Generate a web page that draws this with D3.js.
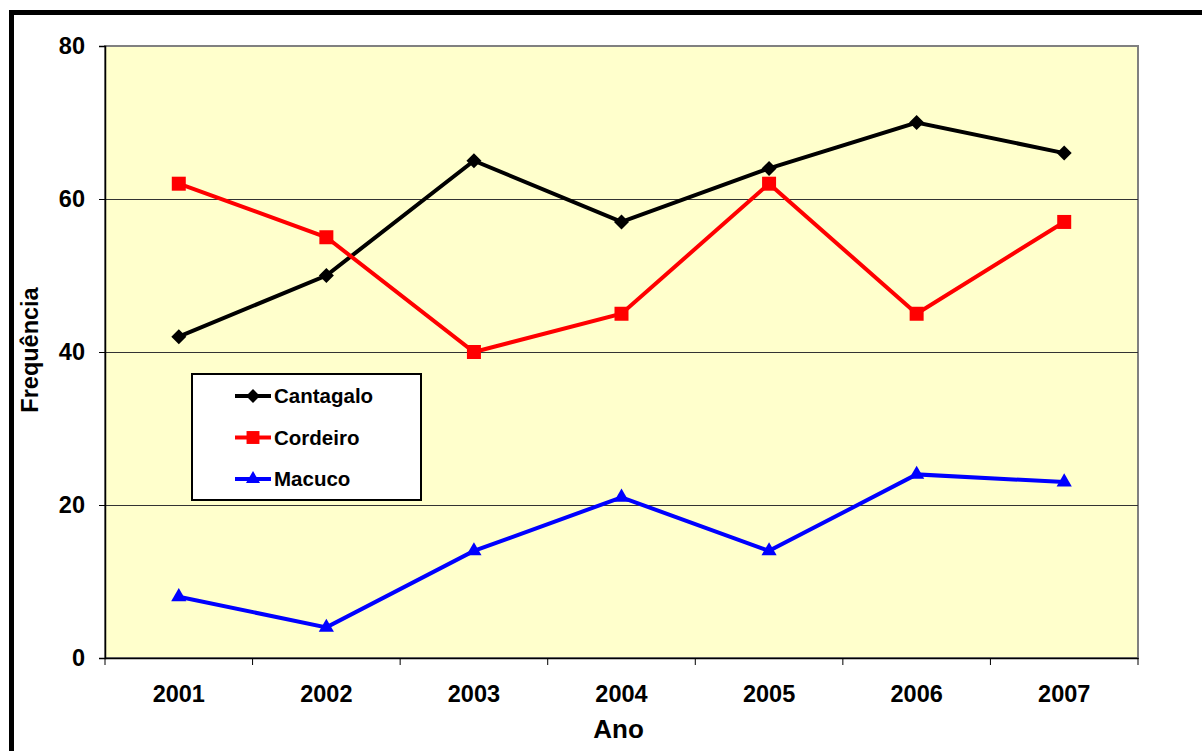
<html>
<head>
<script src="https://d3js.org/d3.v7.min.js"></script>
<style>
    body { margin: 0; background: #fff; }
    text { font-family: "Liberation Sans", Arial, sans-serif; font-weight: bold; }
</style>
</head>
<body>
<div id="chart"></div>
<script>
    // data
    var years = ['2001', '2002', '2003', '2004', '2005', '2006', '2007'];
    var cantagalo = [42, 50, 65, 57, 64, 70, 66];
    var cordeiro = [62, 55, 40, 45, 62, 45, 57];
    var macuco = [8, 4, 14, 21, 14, 24, 23];
    var yTicks = [0, 20, 40, 60, 80];

    // diamond marker drawn as a square turned 45 degrees
    var diamond = {
        draw: function(ctx, size) {
            var r = Math.sqrt(size) / 2;
            ctx.moveTo(0, -r); ctx.lineTo(r, 0); ctx.lineTo(0, r); ctx.lineTo(-r, 0); ctx.closePath();
        }
    };

    var series = [
        {name: 'Cantagalo', values: cantagalo, color: '#000000', symbol: diamond, size: 225},
        {name: 'Cordeiro', values: cordeiro, color: '#FF0000', symbol: d3.symbolSquare, size: 196},
        {name: 'Macuco', values: macuco, color: '#0000FF', symbol: d3.symbolTriangle, size: 100}
    ];

    var W = 1202, H = 751;
    var margin = {top: 46, right: 64, bottom: 93, left: 105};
    var width = W - margin.left - margin.right;
    var height = H - margin.top - margin.bottom;

    var svg = d3.select('#chart').append('svg')
        .attr('width', W)
        .attr('height', H);

    // thick outer frame (runs off the right and bottom edges)
    svg.append('rect')
        .attr('x', 11.5).attr('y', 12.5)
        .attr('width', W + 20).attr('height', H + 20)
        .attr('fill', 'none')
        .attr('stroke', '#000')
        .attr('stroke-width', 5);

    var g = svg.append('g')
        .attr('transform', 'translate(' + margin.left + ',' + margin.top + ')');

    var x = d3.scaleBand().domain(years).range([0, width]);
    var y = d3.scaleLinear().domain([0, 80]).range([height, 0]);

    // plot background
    g.append('rect')
        .attr('width', width).attr('height', height)
        .attr('fill', '#FFFFCC')
        .attr('stroke', '#808080')
        .attr('stroke-width', 2);

    // gridlines
    g.selectAll('.grid')
        .data(yTicks.slice(1, 4))
        .enter().append('line')
        .attr('x1', 0).attr('x2', width)
        .attr('y1', function(d) { return y(d) + 0.5; })
        .attr('y2', function(d) { return y(d) + 0.5; })
        .attr('stroke', '#333')
        .attr('stroke-width', 1);

    // y axis
    var yAxis = g.append('g')
        .call(d3.axisLeft(y).tickValues(yTicks).tickSize(6).tickPadding(14));
    yAxis.select('.domain').attr('stroke', '#000').attr('stroke-width', 1.5);
    yAxis.selectAll('text').attr('font-size', 23.5).attr('fill', '#000');

    // x axis, ticks at the category boundaries
    var xAxis = g.append('g')
        .attr('transform', 'translate(0,' + height + ')')
        .call(d3.axisBottom(x).tickSize(0).tickPadding(27));
    xAxis.select('.domain').attr('stroke', '#000').attr('stroke-width', 1.5);
    xAxis.selectAll('text').attr('font-size', 23.5).attr('fill', '#000');

    g.selectAll('.xtick')
        .data(d3.range(years.length + 1))
        .enter().append('line')
        .attr('x1', function(i) { return i * x.step(); })
        .attr('x2', function(i) { return i * x.step(); })
        .attr('y1', height).attr('y2', height + 7)
        .attr('stroke', '#000');

    // axis titles
    g.append('text')
        .attr('x', width / 2 - 3).attr('y', height + 80)
        .attr('text-anchor', 'middle')
        .attr('font-size', 26)
        .text('Ano');

    g.append('text')
        .attr('transform', 'translate(-67,' + (height / 2 - 2) + ') rotate(-90)')
        .attr('text-anchor', 'middle')
        .attr('font-size', 23.5)
        .text('Frequência');

    var line = d3.line()
        .x(function(d, i) { return x(years[i]) + x.bandwidth() / 2; })
        .y(function(d) { return y(d); });

    series.forEach(function(s) {
        g.append('path')
            .datum(s.values)
            .attr('d', line)
            .attr('fill', 'none')
            .attr('stroke', s.color)
            .attr('stroke-width', 4);

        g.selectAll(null)
            .data(s.values)
            .enter().append('path')
            .attr('d', d3.symbol().type(s.symbol).size(s.size))
            .attr('transform', function(d, i) {
                return 'translate(' + (x(years[i]) + x.bandwidth() / 2) + ',' + y(d) + ')';
            })
            .attr('fill', s.color);
    });

    // legend
    var legend = svg.append('g')
        .attr('transform', 'translate(192,374)');
    legend.append('rect')
        .attr('width', 229).attr('height', 126)
        .attr('fill', '#fff')
        .attr('stroke', '#000')
        .attr('stroke-width', 2);

    var item = legend.selectAll('.legend')
        .data(series)
        .enter().append('g')
        .attr('transform', function(d, i) { return 'translate(0,' + (22 + i * 41.5) + ')'; });

    item.append('line')
        .attr('x1', 43).attr('x2', 79)
        .attr('stroke', function(d) { return d.color; })
        .attr('stroke-width', 4);
    item.append('path')
        .attr('d', function(d) { return d3.symbol().type(d.symbol).size(d.size * 0.85)(); })
        .attr('transform', 'translate(61,0)')
        .attr('fill', function(d) { return d.color; });
    item.append('text')
        .attr('x', 82).attr('y', 7)
        .attr('font-size', 20.5)
        .text(function(d) { return d.name; });
</script>
</body>
</html>
